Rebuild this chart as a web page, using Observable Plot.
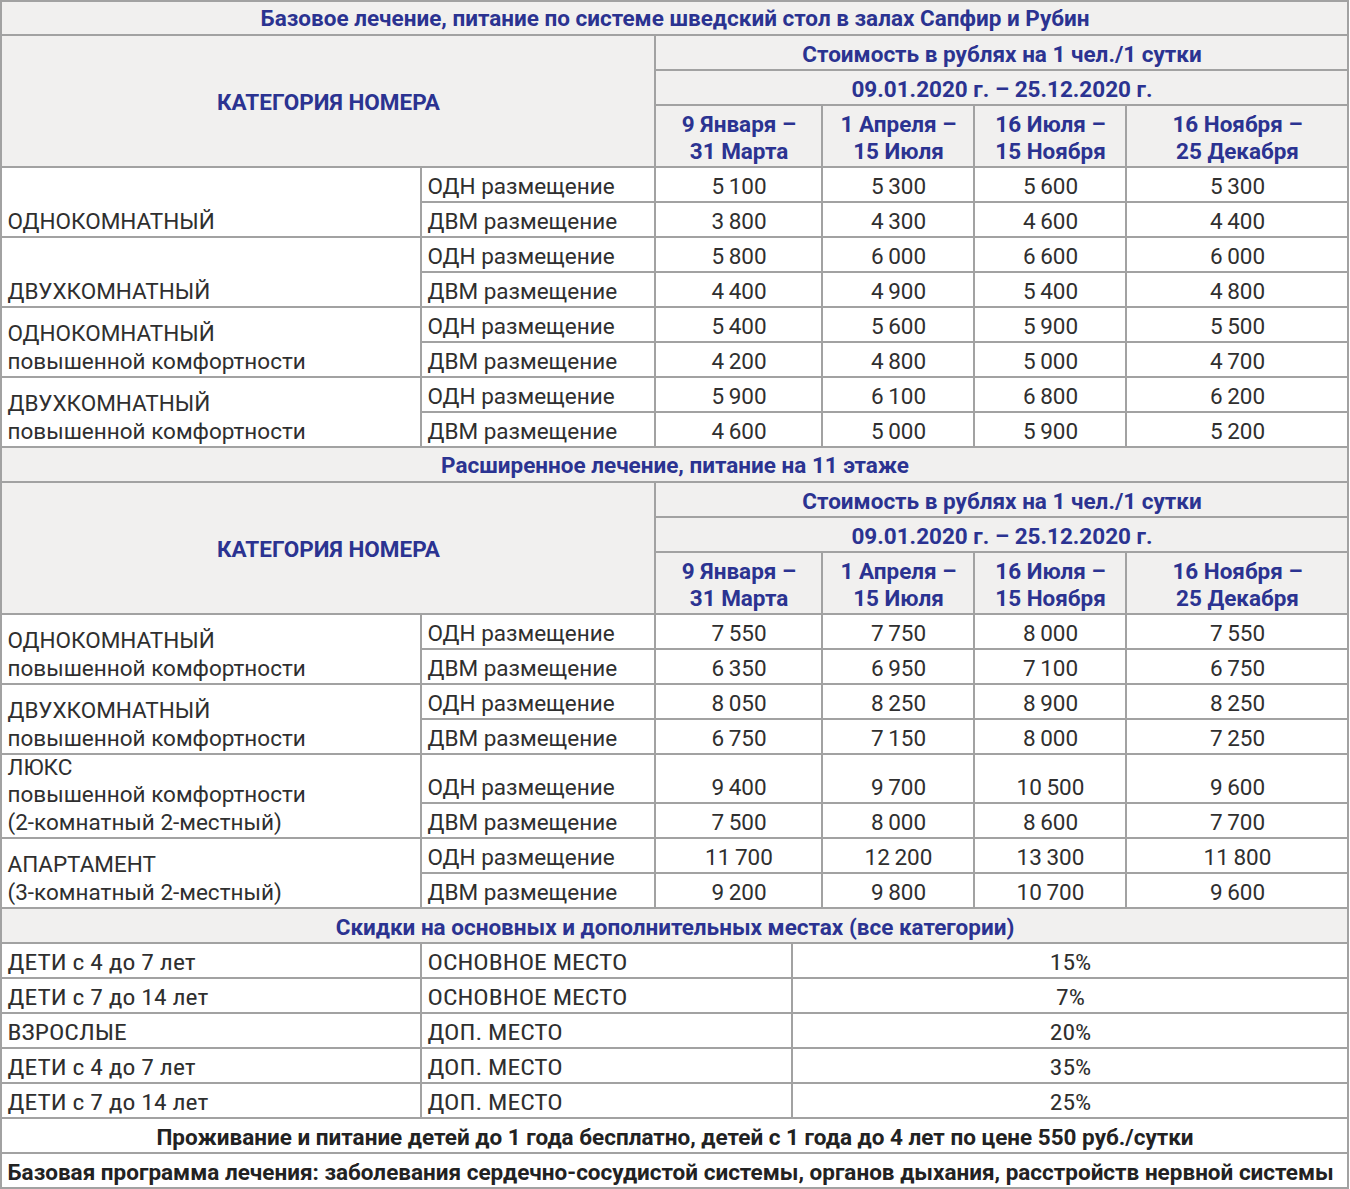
<!DOCTYPE html>
<html>
<head>
<meta charset="utf-8">
<script src="https://cdn.jsdelivr.net/npm/d3@7"></script>
<script src="https://cdn.jsdelivr.net/npm/@observablehq/plot@0.6"></script>
<style>
  html, body { margin: 0; padding: 0; background: #fff; }
  #chart svg { display: block; }
</style>
</head>
<body>
<div id="chart"></div>
<script>
// ---------- DATA ----------
const sectionTitles = [
  "Базовое лечение, питание по системе шведский стол в залах Сапфир и Рубин",
  "Расширенное лечение, питание на 11 этаже"
];
const categoryHeader = "КАТЕГОРИЯ НОМЕРА";
const priceHeader = "Стоимость в рублях на 1 чел./1 сутки";
const dateRange = "09.01.2020 г. – 25.12.2020 г.";
const periods = ["9 Января –\n31 Марта", "1 Апреля –\n15 Июля", "16 Июля –\n15 Ноября", "16 Ноября –\n25 Декабря"];
const placements = ["ОДН размещение", "ДВМ размещение"];

const basicCategories = [
  "ОДНОКОМНАТНЫЙ",
  "ДВУХКОМНАТНЫЙ",
  "ОДНОКОМНАТНЫЙ\nповышенной комфортности",
  "ДВУХКОМНАТНЫЙ\nповышенной комфортности"
];
const basicPrices = [
  [5100, 5300, 5600, 5300], [3800, 4300, 4600, 4400],
  [5800, 6000, 6600, 6000], [4400, 4900, 5400, 4800],
  [5400, 5600, 5900, 5500], [4200, 4800, 5000, 4700],
  [5900, 6100, 6800, 6200], [4600, 5000, 5900, 5200]
];

const extendedCategories = [
  "ОДНОКОМНАТНЫЙ\nповышенной комфортности",
  "ДВУХКОМНАТНЫЙ\nповышенной комфортности",
  "ЛЮКС\nповышенной комфортности\n(2-комнатный 2-местный)",
  "АПАРТАМЕНТ\n(3-комнатный 2-местный)"
];
const extendedPrices = [
  [7550, 7750, 8000, 7550], [6350, 6950, 7100, 6750],
  [8050, 8250, 8900, 8250], [6750, 7150, 8000, 7250],
  [9400, 9700, 10500, 9600], [7500, 8000, 8600, 7700],
  [11700, 12200, 13300, 11800], [9200, 9800, 10700, 9600]
];

const discountTitle = "Скидки на основных и дополнительных местах (все категории)";
const discountGuests = ["ДЕТИ с 4 до 7 лет", "ДЕТИ с 7 до 14 лет", "ВЗРОСЛЫЕ", "ДЕТИ с 4 до 7 лет", "ДЕТИ с 7 до 14 лет"];
const discountPlaces = ["ОСНОВНОЕ МЕСТО", "ОСНОВНОЕ МЕСТО", "ДОП. МЕСТО", "ДОП. МЕСТО", "ДОП. МЕСТО"];
const discountPercents = [15, 7, 20, 35, 25];

const footnotes = [
  "Проживание и питание детей до 1 года бесплатно, детей с 1 года до 4 лет по цене 550 руб./сутки",
  "Базовая программа лечения: заболевания сердечно-сосудистой системы, органов дыхания, расстройств нервной системы"
];

// ---------- LAYOUT (grid geometry, style) ----------
const W = 1350, H = 1189;
const colEdges = [1, 421, 655, 822, 974, 1126, 1348];
const discountSplit = 792;
const ROW = 35, HEAD_ROW = 62;
const basicRowHeights = [35, 35, 35, 35, 35, 35, 35, 35];
const extendedRowHeights = [35, 35, 35, 35, 49, 35, 35, 35];
const HEAD_FILL = "#f1f0ef", BODY_FILL = "#ffffff";
const BORDER = "#a2a2a2";
const BLUE = "#2b3391", INK = "#2f2f2f", FOOT_INK = "#222222";
const FS = 22.5;
const CONDENSED_WIDEN = 1.14;

const fmt = d3.formatLocale({decimal: ",", thousands: "\u2009", grouping: [3], currency: ["", ""]}).format(",d");

const cells = [];
const texts = [];
const L = colEdges[0], R = colEdges[colEdges.length - 1];
const cell = (x1, x2, y1, y2, fill) => cells.push({x1, x2, y1, y2, fill});
const label = (text, x, y, style, anchor = "middle", lineAnchor = "middle") =>
  texts.push({text, x, y, style, anchor, lineAnchor});
const bodyY = (bottom) => bottom - 17;

let y = 1;
function section(title, titleH, categories, prices, rowHeights) {
  cell(L, R, y, y + titleH, HEAD_FILL);
  label(title, (L + R) / 2, y + titleH / 2 - 1, "head");
  y += titleH;
  const hTop = y;
  cell(colEdges[0], colEdges[2], hTop, hTop + ROW * 2 + HEAD_ROW, HEAD_FILL);
  label(categoryHeader, (colEdges[0] + colEdges[2]) / 2, hTop + (ROW * 2 + HEAD_ROW) / 2, "head");
  cell(colEdges[2], R, y, y + ROW, HEAD_FILL);
  label(priceHeader, (colEdges[2] + R) / 2, y + ROW / 2, "head");
  y += ROW;
  cell(colEdges[2], R, y, y + ROW, HEAD_FILL);
  label(dateRange, (colEdges[2] + R) / 2, y + ROW / 2, "head");
  y += ROW;
  periods.forEach((p, j) => {
    cell(colEdges[2 + j], colEdges[3 + j], y, y + HEAD_ROW, HEAD_FILL);
    label(p, (colEdges[2 + j] + colEdges[3 + j]) / 2, y + HEAD_ROW / 2, "head");
  });
  y += HEAD_ROW;
  categories.forEach((cat, i) => {
    const top = y;
    placements.forEach((p, k) => {
      const r = 2 * i + k, h = rowHeights[r];
      cell(colEdges[1], colEdges[2], y, y + h, BODY_FILL);
      label(p, colEdges[1] + 6, bodyY(y + h), "body", "start");
      prices[r].forEach((v, j) => {
        cell(colEdges[2 + j], colEdges[3 + j], y, y + h, BODY_FILL);
        label(fmt(v), (colEdges[2 + j] + colEdges[3 + j]) / 2, bodyY(y + h), "body");
      });
      y += h;
    });
    cell(colEdges[0], colEdges[1], top, y, BODY_FILL);
    label(cat, L + 6, y - 9, "body", "start", "bottom");
  });
}

section(sectionTitles[0], ROW - 1, basicCategories, basicPrices, basicRowHeights);
section(sectionTitles[1], ROW, extendedCategories, extendedPrices, extendedRowHeights);

// discounts
cell(L, R, y, y + ROW, HEAD_FILL);
label(discountTitle, (L + R) / 2, y + ROW / 2, "head");
y += ROW;
discountGuests.forEach((g, i) => {
  cell(L, colEdges[1], y, y + ROW, BODY_FILL);
  cell(colEdges[1], discountSplit, y, y + ROW, BODY_FILL);
  cell(discountSplit, R, y, y + ROW, BODY_FILL);
  label(g, L + 6, bodyY(y + ROW), "cond", "start");
  label(discountPlaces[i], colEdges[1] + 6, bodyY(y + ROW), "cond", "start");
  label(discountPercents[i] + "%", (discountSplit + R) / 2, bodyY(y + ROW), "cond");
  y += ROW;
});
footnotes.forEach((f, i) => {
  cell(L, R, y, y + ROW, BODY_FILL);
  if (i === 0) label(f, (L + R) / 2, y + ROW / 2, "foot");
  else label(f, L + 6, y + ROW / 2, "foot", "start");
  y += ROW;
});

// ---------- PLOT ----------
function byAnchor(style, opts) {
  const out = [];
  for (const a of ["start", "middle"]) for (const la of ["middle", "bottom"]) {
    const data = texts.filter(d => d.style === style && d.anchor === a && d.lineAnchor === la);
    if (data.length) out.push(Plot.text(data, {x: "x", y: "y", text: "text", textAnchor: a, lineAnchor: la, lineHeight: 1.22, fontSize: FS, ...opts}));
  }
  return out;
}

const chart = Plot.plot({
  width: W, height: H, margin: 0,
  x: {type: "linear", domain: [0, W], range: [0, W], axis: null},
  y: {type: "linear", domain: [0, H], range: [0, H], axis: null},
  color: {type: "identity"},
  style: {background: "#fff", fontFamily: "Roboto, 'Noto Sans', sans-serif"},
  marks: [
    Plot.rect(cells, {x1: "x1", x2: "x2", y1: "y1", y2: "y2", fill: "fill", stroke: BORDER, strokeWidth: 2}),
    ...byAnchor("head", {fill: BLUE, fontWeight: "bold"}),
    ...byAnchor("body", {fill: INK}),
    ...byAnchor("cond", {fill: INK, fontFamily: "'Roboto Condensed', Roboto, sans-serif", ariaDescription: "condensed"}),
    ...byAnchor("foot", {fill: FOOT_INK, fontWeight: "bold"})
  ]
});
chart.querySelectorAll('g[aria-description="condensed"]').forEach(g => {
  g.style.fontStretch = "condensed";
  g.querySelectorAll("text").forEach(t => {
    const tr = t.getAttribute("transform");
    if (tr) {
      t.setAttribute("transform", tr + ` scale(${CONDENSED_WIDEN},1)`);
    } else {
      const x = +t.getAttribute("x") || 0, yy = +t.getAttribute("y") || 0;
      t.removeAttribute("x"); t.removeAttribute("y");
      t.setAttribute("transform", `translate(${x},${yy}) scale(${CONDENSED_WIDEN},1)`);
    }
  });
});
document.getElementById("chart").append(chart);
</script>
</body>
</html>
